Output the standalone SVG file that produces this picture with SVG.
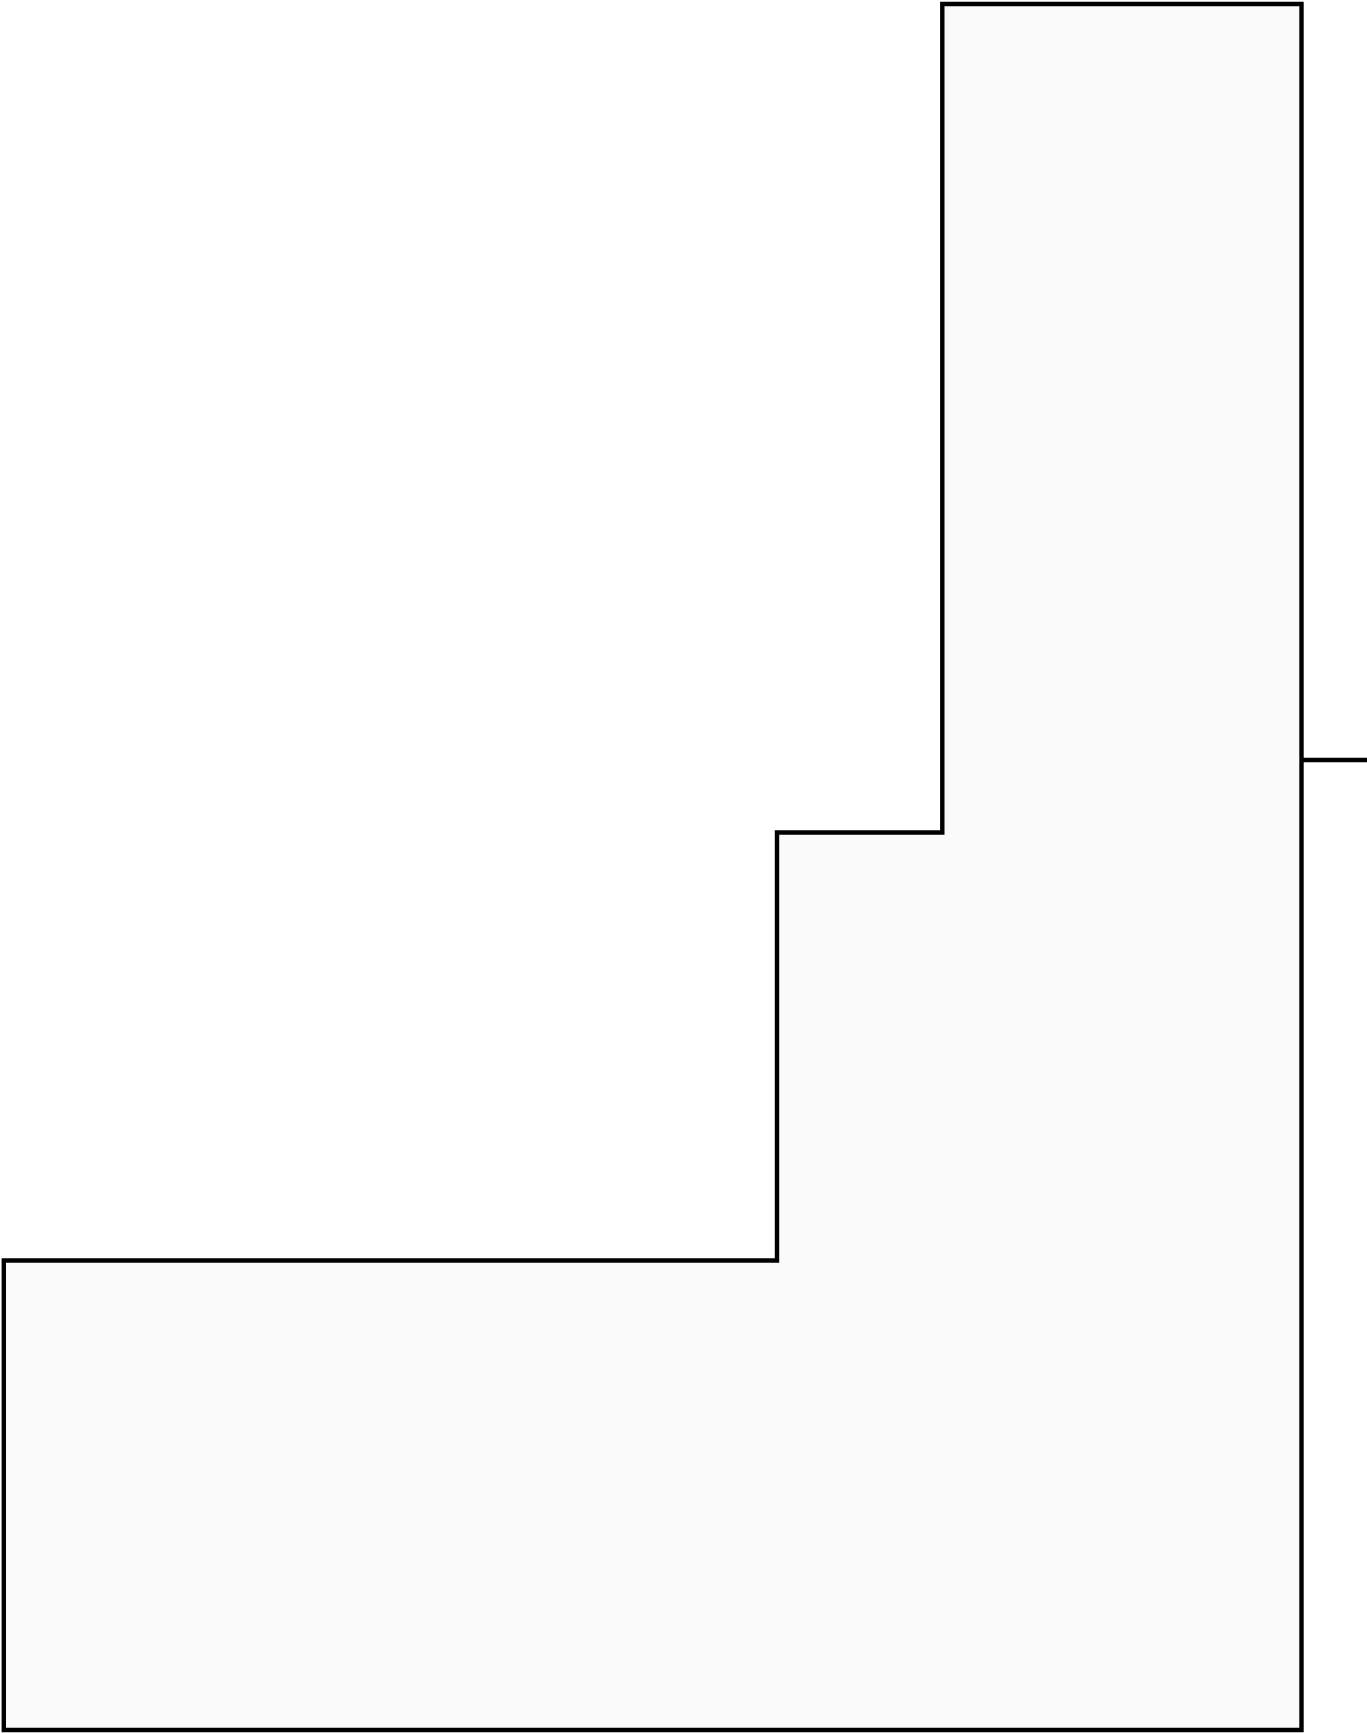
<svg xmlns="http://www.w3.org/2000/svg" width="1367" height="1733" viewBox="0 0 1367 1733">
<style>
.shape{fill:#fafafa;stroke:#000;stroke-width:4.4;stroke-linejoin:miter}
.conn{fill:none;stroke:#000;stroke-width:4.4}
</style>
<rect x="0" y="0" width="1367" height="1733" fill="#fff"/>
<g id="node-shape">
<path class="shape" d="M942.3,4 L1301.5,4 L1301.5,1730 L3.8,1730 L3.8,1260.5 L777,1260.5 L777,832.5 L942.3,832.5 Z"/>
</g>
<g id="connectors">
<line class="conn" x1="1301.5" y1="760" x2="1367" y2="760"/>
</g>
</svg>
